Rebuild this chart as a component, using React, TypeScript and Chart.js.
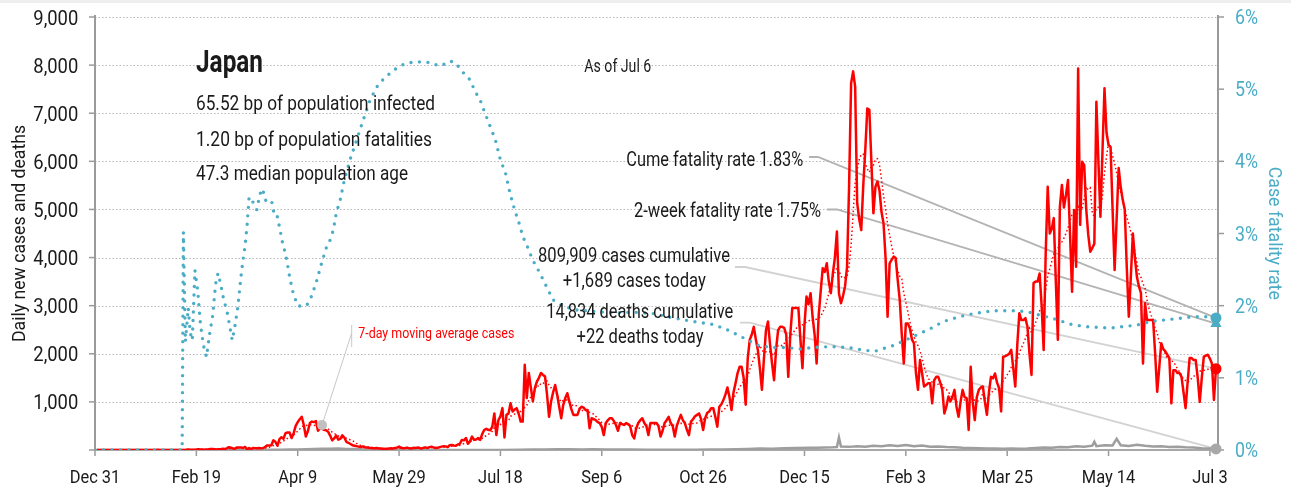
import React, { useEffect, useRef } from "react";
import { Chart, registerables } from "chart.js";

Chart.register(...registerables);

// ---------- DATA ----------
// x axis: days since Dec 31, 2019 (tick every 50 days)
const xTickDays = [0, 50, 100, 150, 200, 250, 300, 350, 400, 450, 500, 550];
const xTickLabels = ["Dec 31", "Feb 19", "Apr 9", "May 29", "Jul 18", "Sep 6", "Oct 26", "Dec 15", "Feb 3", "Mar 25", "May 14", "Jul 3"];
const leftTicks = [0, 1000, 2000, 3000, 4000, 5000, 6000, 7000, 8000, 9000];
const rightTicks = [0, 1, 2, 3, 4, 5, 6];

// daily new cases, day 1 (Jan 1 2020) .. day 553 (Jul 6 2021)
const dailyCases = [
  0, 0, 0, 0, 0, 0, 0, 0, 0, 0,
  0, 0, 0, 0, 0, 1, 0, 0, 0, 0,
  0, 0, 1, 1, 0, 0, 1, 2, 1, 1,
  3, 0, 2, 1, 1, 0, 0, 0, 1, 0,
  0, 1, 0, 0, 4, 12, 5, 6, 4, 10,
  18, 12, 12, 7, 12, 14, 22, 21, 16, 9,
  15, 17, 24, 21, 33, 59, 47, 33, 26, 54,
  52, 54, 41, 64, 15, 40, 15, 44, 39, 35,
  43, 34, 41, 65, 96, 94, 98, 201, 173, 87,
  225, 266, 235, 351, 364, 362, 250, 350, 503, 579,
  640, 690, 520, 280, 390, 560, 590, 580, 600, 400,
  450, 440, 420, 410, 380, 300, 200, 240, 300, 215,
  230, 305, 260, 170, 150, 125, 100, 90, 80, 70,
  60, 75, 55, 50, 45, 40, 38, 35, 40, 30,
  30, 25, 20, 28, 31, 35, 30, 40, 50, 70,
  45, 35, 40, 50, 35, 30, 45, 40, 50, 45,
  30, 45, 55, 40, 60, 70, 55, 40, 45, 60,
  70, 80, 75, 60, 100, 105, 95, 90, 110, 130,
  210, 200, 250, 130, 180, 280, 210, 220, 250, 210,
  330, 415, 440, 420, 410, 485, 760, 310, 620, 700,
  870, 260, 730, 760, 970, 800, 840, 870, 760, 590,
  590, 1770, 1080, 1600, 1300, 1010, 1290, 1420, 1500, 1600,
  1560, 1530, 1150, 690, 1010, 1200, 1350, 1150, 900, 660,
  940, 1080, 1180, 1010, 850, 730, 730, 730, 850, 900,
  880, 830, 830, 450, 660, 640, 620, 580, 560, 480,
  310, 560, 620, 660, 660, 600, 520, 400, 560, 540,
  520, 560, 540, 500, 310, 240, 450, 560, 620, 660,
  560, 500, 310, 560, 560, 560, 560, 500, 280, 400,
  560, 620, 690, 560, 500, 280, 500, 620, 730, 620,
  560, 420, 310, 590, 640, 700, 730, 760, 640, 415,
  660, 770, 800, 870, 870, 690, 485, 900, 950, 1040,
  1150, 1300, 1100, 830, 1200, 1390, 1600, 1730, 1730, 1500,
  940, 1900, 2290, 2400, 2560, 2300, 2080, 1700, 1250, 1900,
  2490, 2670, 2200, 1800, 1450, 2100, 2490, 2560, 2560, 2540,
  2400, 1520, 2400, 2950, 2950, 2950, 2950, 2300, 1700, 2600,
  3190, 3030, 3260, 2770, 2400, 1800, 2800, 3300, 3780, 3700,
  3880, 3500, 3260, 3670, 4000, 4540, 3260, 3050, 3200, 3400,
  3800, 5470, 7620, 7870, 7550, 5130, 4800, 4570, 5500, 6240,
  7100, 7070, 6000, 4920, 5470, 5580, 5400, 4950, 4710, 4000,
  2770, 3880, 3950, 4020, 3990, 3530, 3120, 2400, 1800, 2630,
  2630, 2530, 2300, 2220, 1600, 1250, 1870, 1600, 1320, 1350,
  1390, 1390, 970, 1450, 1520, 1520, 1400, 1250, 760, 900,
  1110, 1010, 1100, 1250, 900, 690, 1000, 1250, 1100, 1080,
  415, 1730, 1000, 620, 1100, 1250, 1300, 1320, 1000, 730,
  1200, 1520, 1490, 1590, 1400, 1290, 800, 1940, 1950, 1970,
  2000, 2080, 1700, 1320, 2200, 2840, 2700, 2700, 2740, 2560,
  2000, 1560, 3470, 3500, 3500, 3670, 3000, 2080, 4090, 5470,
  4500, 4600, 4820, 3500, 2290, 5060, 5510, 5040, 5300, 5610,
  4500, 3290, 4990, 3810, 7930, 4680, 5990, 5920, 5000, 4470,
  4120, 4200, 4290, 7240, 6000, 4850, 6200, 7520, 6600, 6340,
  6300, 5000, 3740, 4800, 5860, 5470, 5200, 5000, 3800, 2770,
  3600, 4500, 4000, 3600, 3400, 3260, 1800, 3050, 2700, 2700,
  2700, 2700, 2000, 1210, 1700, 2220, 2100, 2050, 1980, 1910,
  970, 1660, 1660, 1600, 1600, 1520, 1200, 870, 1400, 1910,
  1910, 1870, 1870, 1500, 1000, 1500, 1940, 1960, 1980, 1900,
  1800, 1040, 1689,
];

// daily deaths (sampled days)
const deathDays = [0, 30, 45, 55, 62, 70, 78, 86, 92, 96, 100, 104, 108, 112, 116, 120, 124, 128, 132, 136, 140, 146, 152, 160, 170, 180, 190, 200, 210, 216, 222, 228, 234, 240, 246, 252, 258, 264, 272, 280, 288, 296, 304, 310, 316, 322, 328, 334, 340, 346, 352, 356, 360, 364, 366, 367, 368, 372, 376, 380, 384, 388, 392, 396, 400, 404, 408, 412, 416, 420, 424, 428, 432, 436, 440, 444, 448, 452, 456, 460, 464, 468, 472, 476, 480, 484, 488, 492, 493, 494, 498, 502, 504, 506, 510, 514, 518, 522, 526, 530, 534, 538, 542, 546, 550, 553];
const deathVals = [0, 0, 0, 1, 1, 2, 3, 4, 5, 8, 12, 16, 22, 28, 25, 30, 20, 22, 15, 12, 8, 6, 4, 3, 2, 1, 1, 2, 4, 8, 12, 14, 16, 12, 14, 10, 9, 8, 7, 6, 7, 6, 8, 10, 14, 20, 30, 26, 34, 40, 45, 48, 52, 55, 60, 260, 70, 65, 80, 70, 90, 80, 100, 85, 105, 80, 95, 70, 75, 60, 55, 45, 40, 35, 30, 32, 28, 30, 24, 30, 40, 50, 45, 60, 55, 80, 70, 90, 170, 80, 100, 95, 230, 100, 85, 110, 90, 75, 80, 60, 70, 55, 50, 35, 30, 22];

// case fatality rate, % (sampled days)
const cfrDays = [0, 43, 43.6, 44.6, 46, 47, 48, 49.3, 50.7, 52, 53.5, 55, 56.5, 58, 59.5, 60.7, 62, 63.5, 65, 66.5, 67.7, 69, 70.5, 72, 73, 74, 75, 76, 77, 78.1, 79.8, 81.4, 82.7, 83.9, 85.5, 87.2, 88.3, 89.6, 91.3, 92.6, 93.5, 94.6, 96, 97.8, 100, 102, 104.4, 106.8, 109, 111.8, 114.3, 116, 117.6, 119, 121, 123, 125.8, 129, 132.3, 135.7, 139, 142, 145.5, 149.6, 153.7, 158.6, 165, 170, 172.5, 175, 177.6, 180, 182.5, 185, 187.5, 190, 192.5, 195, 197.5, 200, 202.5, 204.7, 207, 209.7, 211, 213, 216, 219.5, 222.8, 226, 231, 237.6, 245.8, 255.7, 265.6, 275.5, 285.3, 295, 305, 311.6, 318, 323, 328, 334.6, 341, 347.8, 354.4, 361, 367, 374, 380, 385, 390.5, 394, 399.6, 405, 412, 418.5, 426.7, 433.3, 443, 453, 459.6, 466, 472.8, 481.8, 488.4, 495, 500.7, 507.3, 513.9, 520.4, 527, 533.6, 540.1, 546.7, 553];
const cfrVals = [0, 0, 3.02, 1.5, 1.97, 1.62, 1.52, 2.49, 2.2, 1.75, 1.45, 1.29, 1.6, 1.85, 2.3, 2.45, 2.3, 2.08, 1.94, 1.71, 1.52, 1.71, 1.99, 2.4, 2.63, 2.82, 3.1, 3.5, 3.5, 3.42, 3.33, 3.55, 3.62, 3.47, 3.42, 3.44, 3.28, 3.28, 3.05, 2.86, 2.77, 2.63, 2.4, 2.17, 2.0, 1.99, 2.0, 2.13, 2.31, 2.59, 2.82, 2.91, 3.05, 3.28, 3.47, 3.74, 4.02, 4.29, 4.57, 4.85, 5.03, 5.13, 5.22, 5.31, 5.36, 5.38, 5.37, 5.32, 5.35, 5.39, 5.37, 5.29, 5.2, 5.13, 4.97, 4.85, 4.66, 4.48, 4.3, 4.02, 3.84, 3.56, 3.33, 3.1, 2.96, 2.84, 2.63, 2.45, 2.26, 2.08, 1.99, 1.94, 1.92, 1.9, 1.91, 1.89, 1.83, 1.78, 1.74, 1.67, 1.58, 1.51, 1.44, 1.42, 1.42, 1.4, 1.42, 1.43, 1.43, 1.41, 1.38, 1.37, 1.42, 1.45, 1.52, 1.59, 1.68, 1.78, 1.85, 1.89, 1.93, 1.93, 1.92, 1.87, 1.82, 1.74, 1.71, 1.7, 1.69, 1.71, 1.73, 1.78, 1.8, 1.82, 1.84, 1.85, 1.83];

const cumeFatalityRate = 1.83;
const twoWeekFatalityRate = 1.75;
const avgMarkerDay = 112;

const countryName = "Japan";
const infoLines = ["65.52 bp of population infected", "1.20 bp of population fatalities", "47.3 median population age"];
const asOfLabel = "As of Jul 6";
const cumeLabel = "Cume fatality rate 1.83%";
const twoWeekLabel = "2-week fatality rate 1.75%";
const casesLabels = ["809,909 cases cumulative", "+1,689 cases today"];
const deathsLabels = ["14,834 deaths cumulative", "+22 deaths today"];
const avgLabel = "7-day moving average cases";
const leftTitle = "Daily new cases and deaths";
const rightTitle = "Case fatality rate";

// ---------- STYLE ----------
const RED = "#ff0000";
const TEAL = "#4bacc6";
const GRAY = "#9e9e9e";
const TEXT = "#1a1a1a";
const FONT = "Roboto, 'Liberation Sans', sans-serif";

const movingAvg = dailyCases.map((_, i) => {
  const s = Math.max(0, i - 6);
  const win = dailyCases.slice(s, i + 1);
  return win.reduce((a, b) => a + b, 0) / win.length;
});

function drawText(
  ctx: CanvasRenderingContext2D,
  s: string,
  x: number,
  y: number,
  o: { size: number; bold?: boolean; color?: string; align?: CanvasTextAlign; width?: number; sx?: number; rotate?: number }
) {
  ctx.save();
  ctx.font = `${o.bold ? "700" : "400"} ${o.size}px ${FONT}`;
  const w = ctx.measureText(s).width;
  const sx = o.width ? o.width / w : o.sx ?? 0.82;
  ctx.translate(x, y);
  if (o.rotate) ctx.rotate(o.rotate);
  ctx.scale(sx, 1);
  ctx.textAlign = o.align ?? "left";
  ctx.textBaseline = "alphabetic";
  ctx.fillStyle = o.color ?? TEXT;
  ctx.fillText(s, 0, 0);
  ctx.restore();
}

function scaleFor(ctx: CanvasRenderingContext2D, s: string, size: number, width: number) {
  ctx.save();
  ctx.font = `400 ${size}px ${FONT}`;
  const w = ctx.measureText(s).width;
  ctx.restore();
  return width / w;
}

const decorPlugin = {
  id: "decor",
  beforeDraw(chart: any) {
    const { ctx, width, height } = chart;
    ctx.save();
    ctx.fillStyle = "#ffffff";
    ctx.fillRect(0, 0, width, height);
    ctx.fillStyle = "#eeeeee";
    ctx.fillRect(0, 0, width, 3);
    ctx.restore();
  },
  beforeDatasetsDraw(chart: any) {
    const { ctx, chartArea: a, scales } = chart;
    const sx = scales.x, sy = scales.y, sy1 = scales.y1;
    const line = (x1: number, y1: number, x2: number, y2: number) => {
      ctx.beginPath();
      ctx.moveTo(x1, y1);
      ctx.lineTo(x2, y2);
      ctx.stroke();
    };
    ctx.save();
    // dotted grid
    ctx.strokeStyle = "#b8b8b8";
    ctx.lineWidth = 1;
    ctx.setLineDash([1.5, 2]);
    sy.ticks.forEach((t: any) => {
      if (t.value === 0) return;
      const py = Math.round(sy.getPixelForValue(t.value)) + 0.5;
      line(a.left, py, a.right, py);
    });
    ctx.setLineDash([]);
    // tick marks
    ctx.strokeStyle = "#9a9a9a";
    ctx.lineWidth = 1.5;
    sy.ticks.forEach((t: any) => {
      const py = sy.getPixelForValue(t.value);
      line(a.left - 6, py, a.left, py);
    });
    sy1.ticks.forEach((t: any) => {
      const py = sy1.getPixelForValue(t.value);
      line(a.right, py, a.right + 6, py);
    });
    sx.ticks.forEach((t: any) => {
      const px = sx.getPixelForValue(t.value);
      line(px, a.bottom, px, a.bottom + 6);
    });
    // axis lines
    ctx.lineWidth = 2;
    line(a.left, a.top - 2, a.left, a.bottom + 1);
    line(a.right, a.top - 2, a.right, a.bottom + 1);
    ctx.strokeStyle = "#a8a8a8";
    line(a.left, a.bottom, a.right, a.bottom);

    // leader lines to end markers
    const endX = sx.getPixelForValue(dailyCases.length);
    const leader = (x0: number, x1: number, y0: number, tx: number, ty: number, color: string) => {
      ctx.strokeStyle = color;
      ctx.lineWidth = 1.8;
      ctx.beginPath();
      ctx.moveTo(x0, y0);
      ctx.lineTo(x1, y0);
      ctx.lineTo(tx, ty);
      ctx.stroke();
    };
    leader(809, 818, 157, endX, sy1.getPixelForValue(cumeFatalityRate), "#b3b3b3");
    leader(827, 837, 209.5, endX, sy1.getPixelForValue(twoWeekFatalityRate), "#b3b3b3");
    leader(735, 745, 267, endX, sy.getPixelForValue(dailyCases[dailyCases.length - 1]), "#d2d2d2");
    leader(740, 750, 322.7, endX, sy.getPixelForValue(deathVals[deathVals.length - 1]), "#d2d2d2");

    // 7-day avg leader
    const mx = sx.getPixelForValue(avgMarkerDay);
    const my = sy.getPixelForValue(movingAvg[avgMarkerDay - 1]);
    ctx.strokeStyle = "#c8c8c8";
    ctx.lineWidth = 1;
    line(351.7, 325, 351.7, 347);
    line(351.7, 333, mx, my);
    ctx.restore();
  },
  afterDraw(chart: any) {
    const { ctx, chartArea: a, scales } = chart;
    const sx = scales.x, sy = scales.y, sy1 = scales.y1;

    // tick labels
    const lsx = scaleFor(ctx, "9,000", 21, 45);
    sy.ticks.forEach((t: any) => {
      if (t.value === 0) return;
      const py = sy.getPixelForValue(t.value);
      drawText(ctx, t.value.toLocaleString("en-US"), 78.3, py + 7.6, { size: 21, align: "right", sx: lsx });
    });
    const rsx = scaleFor(ctx, "6%", 20, 23);
    sy1.ticks.forEach((t: any) => {
      const py = sy1.getPixelForValue(t.value);
      drawText(ctx, `${t.value}%`, a.right + 17, py + 7.1, { size: 20, align: "left", sx: rsx, color: TEAL });
    });
    const xsx = scaleFor(ctx, "Dec 31", 19, 50.7);
    sx.ticks.forEach((t: any, i: number) => {
      const px = sx.getPixelForValue(t.value);
      drawText(ctx, xTickLabels[i], px, 483.3, { size: 19, align: "center", sx: xsx });
    });

    // axis titles
    drawText(ctx, leftTitle, 25, 233.5, { size: 19, align: "center", width: 217, rotate: -Math.PI / 2 });
    drawText(ctx, rightTitle, 1268.5, 233.3, { size: 19, align: "center", width: 133, rotate: Math.PI / 2, color: TEAL });

    // header block
    drawText(ctx, countryName, 196, 71.7, { size: 31, bold: true, width: 67 });
    drawText(ctx, infoLines[0], 196, 110, { size: 21, width: 239 });
    drawText(ctx, infoLines[1], 196, 145.7, { size: 21, width: 236 });
    drawText(ctx, infoLines[2], 196, 180, { size: 21, width: 212 });
    drawText(ctx, asOfLabel, 584.3, 71.7, { size: 18, width: 67 });

    // right annotations
    drawText(ctx, cumeLabel, 803.3, 165.7, { size: 21, align: "right", width: 177 });
    drawText(ctx, twoWeekLabel, 821, 217.3, { size: 21, align: "right", width: 187 });
    drawText(ctx, casesLabels[0], 634, 262, { size: 21, align: "center", width: 192 });
    drawText(ctx, casesLabels[1], 634.3, 286.7, { size: 21, align: "center", width: 143 });
    drawText(ctx, deathsLabels[0], 639.7, 318.3, { size: 21, align: "center", width: 187 });
    drawText(ctx, deathsLabels[1], 640, 343.3, { size: 21, align: "center", width: 127 });

    drawText(ctx, avgLabel, 358.3, 338, { size: 14, width: 156, color: RED });
  },
};

export default function App() {
  const ref = useRef<HTMLCanvasElement | null>(null);

  useEffect(() => {
    if (!ref.current) return;
    const lastDay = dailyCases.length;
    const marker = (label: string, x: number, y: number, axis: string, color: string, radius: number, style = "circle") => ({
      label,
      data: [{ x, y }],
      yAxisID: axis,
      showLine: false,
      pointStyle: style,
      pointRadius: radius,
      pointBackgroundColor: color,
      pointBorderColor: color,
      pointBorderWidth: 0,
      clip: false,
      order: 0,
    });
    const chart = new Chart(ref.current, {
      type: "line",
      data: {
        datasets: [
          marker("avg marker", avgMarkerDay, movingAvg[avgMarkerDay - 1], "y", "#c0c0c0", 5),
          marker("cume marker", lastDay, cumeFatalityRate, "y1", TEAL, 5.5),
          marker("2-week marker", lastDay, twoWeekFatalityRate, "y1", TEAL, 6.5, "triangle"),
          marker("cases marker", lastDay, dailyCases[lastDay - 1], "y", RED, 5.5),
          marker("deaths marker", deathDays[deathDays.length - 1], deathVals[deathVals.length - 1], "y", "#a8a8a8", 5.5),
          {
            label: "Case fatality rate",
            data: cfrDays.map((d, i) => ({ x: d, y: cfrVals[i] })),
            yAxisID: "y1",
            borderColor: TEAL,
            borderWidth: 3.4,
            borderDash: [0, 8.5],
            borderCapStyle: "round",
            pointRadius: 0,
            tension: 0,
            order: 1,
          },
          {
            label: "Daily new cases",
            data: dailyCases.map((v, i) => ({ x: i + 1, y: v })),
            yAxisID: "y",
            borderColor: RED,
            borderWidth: 2.5,
            borderJoinStyle: "round",
            pointRadius: 0,
            tension: 0,
            order: 2,
          },
          {
            label: "7-day moving average cases",
            data: movingAvg.map((v, i) => ({ x: i + 1, y: v })),
            yAxisID: "y",
            borderColor: RED,
            borderWidth: 1.5,
            borderDash: [1.5, 2.5],
            pointRadius: 0,
            tension: 0,
            order: 3,
          },
          {
            label: "Daily deaths",
            data: deathDays.map((d, i) => ({ x: d, y: deathVals[i] })),
            yAxisID: "y",
            borderColor: GRAY,
            borderWidth: 2.5,
            pointRadius: 0,
            tension: 0,
            order: 4,
          },
        ],
      },
      options: {
        animation: false,
        responsive: false,
        maintainAspectRatio: false,
        events: [],
        layout: { padding: { top: 17, left: 0, right: 0, bottom: 0 } },
        plugins: { legend: { display: false }, tooltip: { enabled: false } },
        scales: {
          x: {
            type: "linear",
            position: "bottom",
            min: 0,
            max: 554,
            grid: { display: false },
            border: { display: false },
            ticks: { display: false },
            afterBuildTicks: (s: any) => {
              s.ticks = xTickDays.map((v) => ({ value: v }));
            },
            afterFit: (s: any) => {
              s.height = 38;
            },
          },
          y: {
            type: "linear",
            position: "left",
            min: 0,
            max: 9000,
            grid: { display: false },
            border: { display: false },
            ticks: { display: false },
            afterBuildTicks: (s: any) => {
              s.ticks = leftTicks.map((v) => ({ value: v }));
            },
            afterFit: (s: any) => {
              s.width = 95;
            },
          },
          y1: {
            type: "linear",
            position: "right",
            min: 0,
            max: 6,
            grid: { display: false },
            border: { display: false },
            ticks: { display: false },
            afterBuildTicks: (s: any) => {
              s.ticks = rightTicks.map((v) => ({ value: v }));
            },
            afterFit: (s: any) => {
              s.width = 73;
            },
          },
        },
      },
      plugins: [decorPlugin],
    } as any);
    return () => chart.destroy();
  }, []);

  return (
    <div style={{ position: "fixed", left: 0, top: 0, width: 1291, height: 488, background: "#fff" }}>
      <canvas ref={ref} width={1291} height={488} style={{ width: 1291, height: 488, display: "block" }} />
    </div>
  );
}
